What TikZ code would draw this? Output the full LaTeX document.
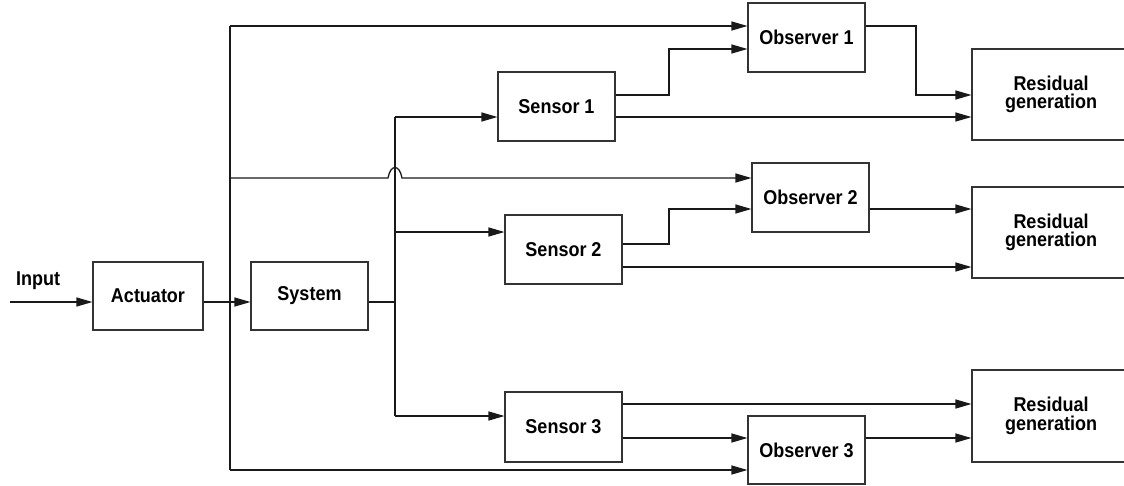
\documentclass[tikz,border=0pt]{standalone}
\usepackage{fontspec}
\setmainfont{Liberation Sans}
\newfontfamily\diagfont{Liberation Sans}[FakeStretch=0.9]
\usetikzlibrary{arrows.meta}
\begin{document}
\begin{tikzpicture}[x=1pt,y=-1pt,
  blk/.style={draw=black!80, line width=1.1pt, inner sep=0pt, align=center,
    font=\diagfont\bfseries\fontsize{20}{18.5}\selectfont},
  wire/.style={line width=1.3pt, draw=black!90},
  arr/.style={wire, -{Triangle[length=16pt,width=9pt]}}]
\useasboundingbox (0,0) rectangle (1124,485);

% blocks
\node[blk, minimum width=110pt, minimum height=68pt] (act) at (148,296) {Actuator};
\node[blk, minimum width=117pt, minimum height=68pt] (sys) at (309.5,296) {System};
\node[blk, minimum width=117pt, minimum height=69pt] (s1) at (556.5,106.5) {Sensor 1};
\node[blk, minimum width=117pt, minimum height=69pt] (s2) at (563.5,249.5) {Sensor 2};
\node[blk, minimum width=117pt, minimum height=70pt] (s3) at (563.5,427) {Sensor 3};
\node[blk, minimum width=117pt, minimum height=69pt] (o1) at (806.5,37.5) {Observer 1};
\node[blk, minimum width=117pt, minimum height=69pt] (o2) at (810.5,197.5) {Observer 2};
\node[blk, minimum width=117pt, minimum height=68pt] (o3) at (806.5,450) {Observer 3};
\node[blk, minimum width=158pt, minimum height=91pt] (r1) at (1051,94.5) {Residual\\generation};
\node[blk, minimum width=158pt, minimum height=91pt] (r2) at (1051,232.5) {Residual\\generation};
\node[blk, minimum width=158pt, minimum height=92pt] (r3) at (1051,416) {Residual\\generation};
\node[anchor=base, inner sep=0pt, font=\diagfont\bfseries\fontsize{20}{20}\selectfont] (lin) at (38,285) {Input};

% points
\coordinate (in) at (10,302);
\coordinate (bt) at (230,26);
\coordinate (bm) at (230,178);
\coordinate (bb) at (230,470);
\coordinate (vs) at (395,302);
\coordinate (vt) at (395,117);
\coordinate (v2) at (395,232);
\coordinate (vb) at (395,416);
\coordinate (hopa) at (388,178);
\coordinate (hopb) at (402,178);
\coordinate (k1) at (669,95);
\coordinate (L49) at (0,49);
\coordinate (k2) at (669,244);
\coordinate (L209) at (0,209);
\coordinate (k3) at (916,26);
\coordinate (L95) at (0,95);
\coordinate (L267) at (0,267);
\coordinate (L404) at (0,404);
\coordinate (L438) at (0,438);

% connectors
\draw[arr] (in) -- (act.west |- in);
\draw[arr] (act.east |- in) -- (sys.west |- in);
\draw[wire] (bt) -- (bb);
\draw[arr] (bt) -- (o1.west |- bt);
\draw[arr] (bm) -- (hopa) .. controls (390.5,164) and (399.5,164) .. (hopb) -- (o2.west |- bm);
\draw[arr] (bb) -- (o3.west |- bb);
\draw[wire] (sys.east |- in) -- (vs);
\draw[wire] (vt) -- (vb);
\draw[arr] (vt) -- (s1.west |- vt);
\draw[arr] (v2) -- (s2.west |- v2);
\draw[arr] (vb) -- (s3.west |- vb);

\draw[arr] (s1.east |- k1) -- (k1) |- (o1.west |- L49);
\draw[arr] (s1.east |- vt) -- (r1.west |- vt);
\draw[arr] (o1.east |- k3) -- (k3) |- (r1.west |- L95);

\draw[arr] (s2.east |- k2) -- (k2) |- (o2.west |- L209);
\draw[arr] (o2.east |- L209) -- (r2.west |- L209);
\draw[arr] (s2.east |- L267) -- (r2.west |- L267);

\draw[arr] (s3.east |- L404) -- (r3.west |- L404);
\draw[arr] (s3.east |- L438) -- (o3.west |- L438);
\draw[arr] (o3.east |- L438) -- (r3.west |- L438);
\end{tikzpicture}
\end{document}
